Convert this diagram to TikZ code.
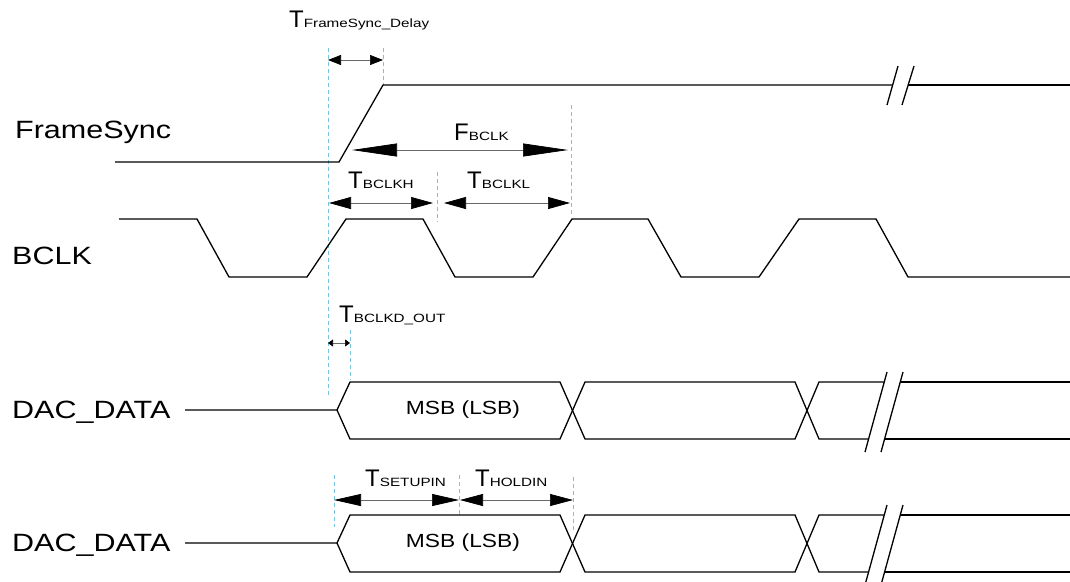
\documentclass[tikz,border=0pt]{standalone}
\usepackage{fontspec}
\setmainfont{Liberation Sans}
\usepackage{graphicx}
\usepackage{xcolor}
\usetikzlibrary{arrows.meta}
\definecolor{guideblue}{RGB}{120,195,222}
\definecolor{dimgray}{RGB}{105,105,105}

\newcommand{\siglabel}[1]{\fontsize{25}{30}\selectfont\scalebox{1.22}[1]{#1}}
\newcommand{\tlabel}[2]{\fontsize{24}{28}\selectfont #1\scalebox{1.27}[1]{\fontsize{12}{14}\selectfont #2}}
\newcommand{\buslabel}{\fontsize{19}{22}\selectfont\scalebox{1.2}[1]{MSB (LSB)}}

\tikzset{
  sig/.style={line width=1.3pt},
  guide/.style={draw=guideblue,line width=0.6pt,dash pattern=on 4pt off 3pt},
  dimarrow/.style 2 args={draw=dimgray,line width=0.7pt,
    {Triangle[length=#1,width=#2,color=black]}-{Triangle[length=#1,width=#2,color=black]}},
  txt/.style={inner sep=0pt,anchor=base west}
}

\begin{document}
\begin{tikzpicture}[x=1pt,y=-1pt]
\useasboundingbox (0,0) rectangle (1070,581);

% signal names
\node[txt] (fsname) at (15,138) {\siglabel{FrameSync}};
\node[txt] (bclkname) at (12,264) {\siglabel{BCLK}};
\node[txt] (dacname) at (12,418) {\siglabel{DAC\_DATA}};
\node[txt] (dacnameb) at (12,551) {\siglabel{DAC\_DATA}};

% guides
\draw[guide] (328,48) -- (328,397);
\draw[guide] (383,48) -- (383,85);
\draw[guide] (571,105) -- (571,215);
\draw[guide] (437,172) -- (437,222);
\draw[guide] (350,330) -- (350,380);
\draw[guide] (334,475) -- (334,527);
\draw[guide] (459,475) -- (459,515);
\draw[guide] (573,477) -- (573,530);

% FrameSync
\draw[sig] (115,162) -- (339,162) -- (383,85) -- (892,85);
\draw[sig] (908,85) -- (1070,85);
\draw[sig] (887,105) -- (898,66);
\draw[sig] (902,105) -- (914,66);

% BCLK
\draw[sig] (119,219) -- (197,219) -- (229,277) -- (307,277) -- (346,219)
  -- (423,219) -- (455,277) -- (533,277) -- (572,219) -- (648,219)
  -- (681,277) -- (759,277) -- (799,219) -- (876,219) -- (908,277) -- (1070,277);

% DAC_DATA, two rows
\foreach \dy in {0,133}{
  \draw[sig] (185,410+\dy) -- (337,410+\dy) -- (350,382+\dy) -- (560,382+\dy)
    -- (585,439+\dy) -- (795,439+\dy) -- (819,382+\dy) -- (884,382+\dy);
  \draw[sig] (337,410+\dy) -- (350,439+\dy) -- (560,439+\dy)
    -- (585,382+\dy) -- (795,382+\dy) -- (819,439+\dy) -- (868.6,439+\dy);
  \draw[sig] (900,382+\dy) -- (1070,382+\dy);
  \draw[sig] (884.6,439+\dy) -- (1070,439+\dy);
  \draw[sig] (865,452+\dy) -- (887,372+\dy);
  \draw[sig] (881,452+\dy) -- (903,372+\dy);
}
\node (msb) at (463,410) {\buslabel};
\node (msbb) at (463,543) {\buslabel};

% timing arrows
\coordinate (fsd-l) at (328,60);  \coordinate (fsd-r) at (383,60);
\coordinate (fb-l) at (352,150);  \coordinate (fb-r) at (568,150);
\coordinate (bh-l) at (329,203);  \coordinate (bh-r) at (433,203);
\coordinate (bl-l) at (444,203);  \coordinate (bl-r) at (570,203);
\coordinate (bo-l) at (328,343);  \coordinate (bo-r) at (350,343);
\coordinate (su-l) at (334,500);  \coordinate (su-r) at (459,500);
\coordinate (ho-l) at (460,500);  \coordinate (ho-r) at (573,500);
\draw[dimarrow={13pt}{10pt}] (fsd-l) -- (fsd-r);
\draw[dimarrow={45pt}{13pt}] (fb-l) -- (fb-r);
\draw[dimarrow={22pt}{12pt}] (bh-l) -- (bh-r);
\draw[dimarrow={22pt}{12pt}] (bl-l) -- (bl-r);
\draw[dimarrow={5pt}{7pt}] (bo-l) -- (bo-r);
\draw[dimarrow={27pt}{12pt}] (su-l) -- (su-r);
\draw[dimarrow={23pt}{12pt}] (ho-l) -- (ho-r);

% timing labels
\node[txt] (tfsd) at (289,27) {\tlabel{T}{FrameSync\_Delay}};
\node[txt] (fbclk) at (454,140) {\tlabel{F}{BCLK}};
\node[txt] (tbclkh) at (348,188) {\tlabel{T}{BCLKH}};
\node[txt] (tbclkl) at (467,188) {\tlabel{T}{BCLKL}};
\node[txt] (tbclkd) at (339,322) {\tlabel{T}{BCLKD\_OUT}};
\node[txt] (tsetup) at (365,486) {\tlabel{T}{SETUPIN}};
\node[txt] (thold) at (475,486) {\tlabel{T}{HOLDIN}};
\end{tikzpicture}
\end{document}
